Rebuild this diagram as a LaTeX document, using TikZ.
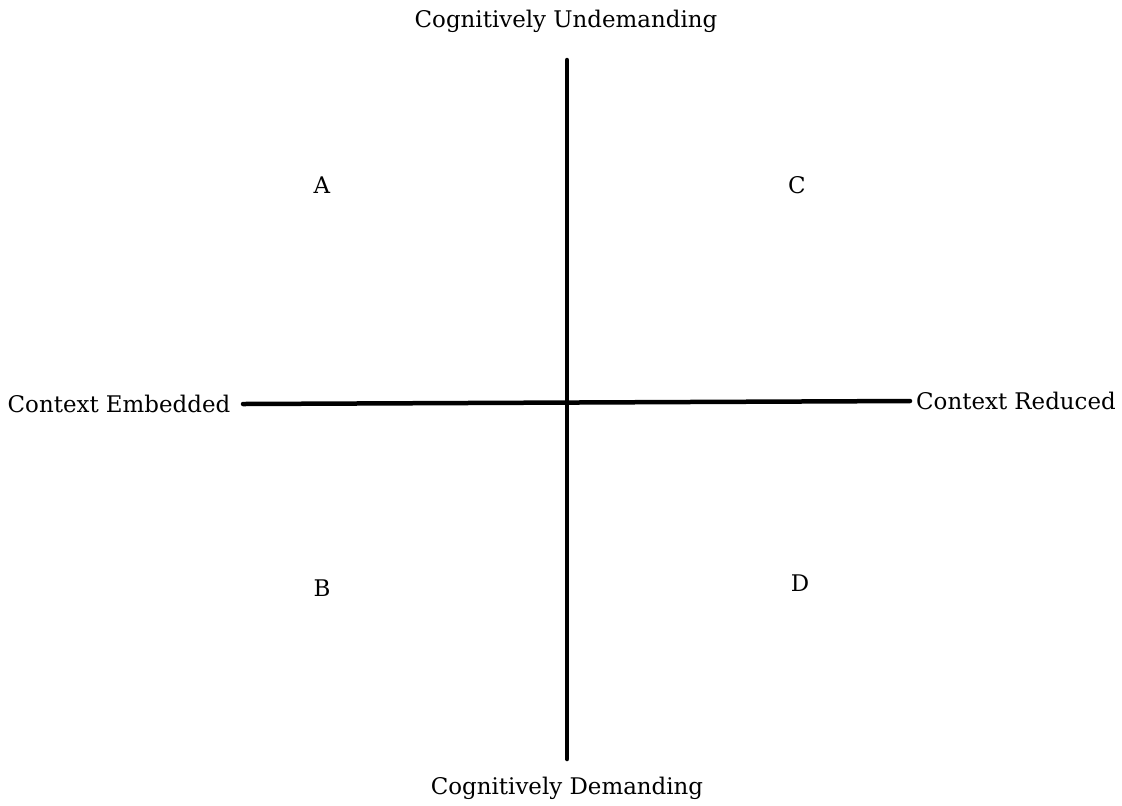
\documentclass[tikz,border=0pt]{standalone}
\usepackage{fontspec}
\setmainfont{DejaVu Serif}
\usetikzlibrary{positioning}
\begin{document}
\begin{tikzpicture}[x=0.025cm, y=-0.025cm, font=\fontsize{16.3}{19}\selectfont, line join=round, line cap=round]
	\tikzset{axis/.style={line width=3.2pt}, lbl/.style={inner sep=0pt}}
	\useasboundingbox (0,0) rectangle (1122,805);
	% axis labels
	\node[lbl] (undem) at (566,21) {Cognitively Undemanding};
	\node[lbl] (dem) at (567,788) {Cognitively Demanding};
	\node[lbl] (embed) at (119,404) {Context Embedded};
	\node[lbl] (reduc) at (1016,401) {Context Reduced};
	% axes
	\coordinate (n) at (567,60);
	\coordinate (s) at (567,759);
	\coordinate (w) at (243,404);
	\coordinate (e) at (910,401);
	\draw[axis] (w) -- (e);
	\draw[axis] (n) -- (s);
	% quadrants
	\node[lbl] (qa) at (322,185) {A};
	\node[lbl] (qc) at (797,185) {C};
	\node[lbl] (qb) at (322,588) {B};
	\node[lbl] (qd) at (800,583) {D};
\end{tikzpicture}
\end{document}
